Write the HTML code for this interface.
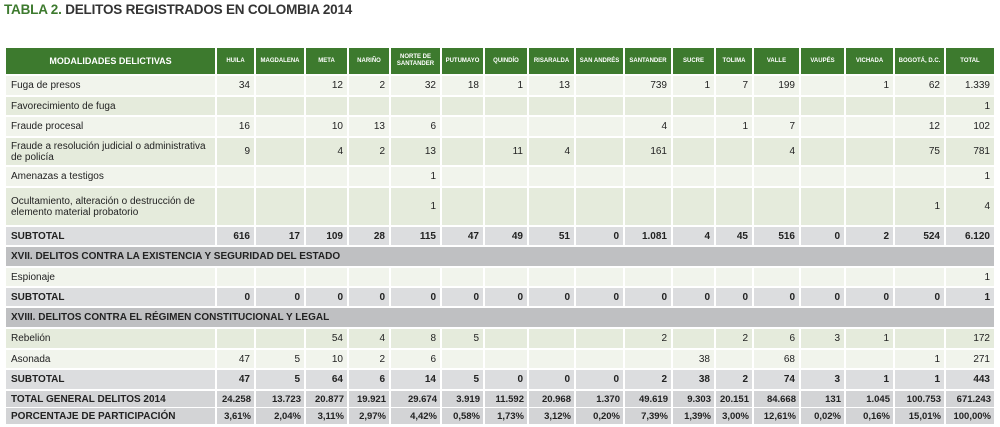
<!DOCTYPE html>
<html><head><meta charset="utf-8">
<style>
body{margin:0;background:#fff;width:1000px;height:427px;overflow:hidden;position:relative;font-family:"Liberation Sans",sans-serif;}
.c{position:absolute;box-sizing:border-box;font-size:10px;color:#222;display:flex;align-items:center;white-space:nowrap;overflow:hidden;}
.n{justify-content:flex-end;padding-right:4px;}
.h{background:#3d7a2e;color:#fff;font-size:6px;font-weight:bold;justify-content:center;text-align:center;line-height:7px;white-space:normal;}
.l{padding-left:5px;line-height:11px;white-space:normal;}
.b{font-weight:bold;}
.tt.n{font-size:9.5px;padding-right:3px;}
#title{position:absolute;left:4px;top:2px;font-size:13.5px;font-weight:bold;color:#333;letter-spacing:-0.2px;}
#title span{color:#3d7a2e;}
</style></head><body>
<div id="title"><span>TABLA 2.</span> DELITOS REGISTRADOS EN COLOMBIA 2014</div>
<div id="t"></div>
<script>
const columns=["HUILA","MAGDALENA","META","NARIÑO","NORTE DE SANTANDER","PUTUMAYO","QUINDÍO","RISARALDA","SAN ANDRÉS","SANTANDER","SUCRE","TOLIMA","VALLE","VAUPÉS","VICHADA","BOGOTÁ, D.C.","TOTAL"];
const rowLabels=["Fuga de presos","Favorecimiento de fuga","Fraude procesal","Fraude a resolución judicial o administrativa de policía","Amenazas a testigos","Ocultamiento, alteración o destrucción de elemento material probatorio","SUBTOTAL","XVII. DELITOS CONTRA LA EXISTENCIA Y SEGURIDAD DEL ESTADO","Espionaje","SUBTOTAL","XVIII. DELITOS CONTRA EL RÉGIMEN CONSTITUCIONAL Y LEGAL","Rebelión","Asonada","SUBTOTAL","TOTAL GENERAL DELITOS 2014","PORCENTAJE DE PARTICIPACIÓN"];
const rowTypes=["a","b","a","b","a","b","s","h","a","s","h","b","a","s","t","t"];
const rowValues=[
["34","","12","2","32","18","1","13","","739","1","7","199","","1","62","1.339"],
["","","","","","","","","","","","","","","","","1"],
["16","","10","13","6","","","","","4","","1","7","","","12","102"],
["9","","4","2","13","","11","4","","161","","","4","","","75","781"],
["","","","","1","","","","","","","","","","","","1"],
["","","","","1","","","","","","","","","","","1","4"],
["616","17","109","28","115","47","49","51","0","1.081","4","45","516","0","2","524","6.120"],
null,
["","","","","","","","","","","","","","","","","1"],
["0","0","0","0","0","0","0","0","0","0","0","0","0","0","0","0","1"],
null,
["","","54","4","8","5","","","","2","","2","6","3","1","","172"],
["47","5","10","2","6","","","","","","38","","68","","","1","271"],
["47","5","64","6","14","5","0","0","0","2","38","2","74","3","1","1","443"],
["24.258","13.723","20.877","19.921","29.674","3.919","11.592","20.968","1.370","49.619","9.303","20.151","84.668","131","1.045","100.753","671.243"],
["3,61%","2,04%","3,11%","2,97%","4,42%","0,58%","1,73%","3,12%","0,20%","7,39%","1,39%","3,00%","12,61%","0,02%","0,16%","15,01%","100,00%"]
];
const X=[6,217,256,306,349,391,442,485,529,576,625,673,716,754,801,846,895,946,996];
const Y=[76,97,117,138,167,188,227,247,268,288,308,329,350,370,391,408,425];
const BG={a:"#f1f4ec",b:"#e5ebdc",s:"#dcdddf",h:"#bfc0c2",t:"#d3d4d6"};
const T=document.getElementById('t');
function cell(x0,x1,y0,y1,cls,txt,bg){
  const d=document.createElement('div');
  d.className='c '+cls;
  d.style.left=x0+'px';d.style.top=y0+'px';
  d.style.width=(x1-x0-2)+'px';d.style.height=(y1-y0-(cls.includes('tt')?1:2))+'px';
  if(bg)d.style.background=bg;
  d.textContent=txt;T.appendChild(d);return d;
}
let h=cell(X[0],X[1],48,76,'h','MODALIDADES DELICTIVAS');
h.style.fontSize='9px';


columns.forEach((c,i)=>{
  const d=cell(X[i+1],X[i+2],48,76,'h',c);
  
  
});
rowLabels.forEach((lab,r)=>{
  const t=rowTypes[r],y0=Y[r],y1=Y[r+1],bg=BG[t];
  const bold=(t==='s'||t==='h'||t==='t')?' b':'';
  const tt=t==='t'?' tt':'';
  if(t==='h'){
    const d=cell(X[0],X[X.length-1],y0,y1,'l b',lab,bg);
    
    
    return;
  }
  const d=cell(X[0],X[1],y0,y1,'l'+bold+tt,lab,bg);
  
  
  rowValues[r].forEach((v,i)=>{
    const e=cell(X[i+1],X[i+2],y0,y1,'n'+bold+tt,v,bg);
    
    
  });
});
</script>
</body></html>
